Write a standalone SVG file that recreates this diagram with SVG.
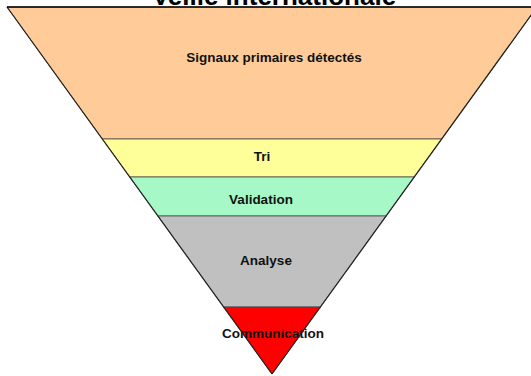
<svg xmlns="http://www.w3.org/2000/svg" width="531" height="376" viewBox="0 0 531 376">
<style>
.band{stroke:#4a4a4a;stroke-width:0.8}
.lbl{font-family:"Liberation Sans",Arial,sans-serif;font-weight:bold;font-size:13.5px;fill:#111;text-anchor:middle}
.title{font-family:"Liberation Sans",Arial,sans-serif;font-weight:bold;font-size:26px;fill:#000;text-anchor:middle}
</style>
<rect width="531" height="376" fill="#ffffff"/>
<text class="title" x="274" y="5">Veille internationale</text>
<g id="signaux">
<polygon class="band" fill="#FFCC99" points="7,7 537,7 441.7,139 102.3,139"/>
<text class="lbl" x="274" y="62">Signaux primaires détectés</text>
</g>
<g id="tri">
<polygon class="band" fill="#FFFF99" points="102.3,139 441.7,139 414.2,177 129.8,177"/>
<text class="lbl" x="262" y="161">Tri</text>
</g>
<g id="validation">
<polygon class="band" fill="#A6F9C6" points="129.8,177 414.2,177 386.1,216 157.9,216"/>
<text class="lbl" x="261" y="204">Validation</text>
</g>
<g id="analyse">
<polygon class="band" fill="#C0C0C0" points="157.9,216 386.1,216 320.4,307 223.6,307"/>
<text class="lbl" x="266" y="265">Analyse</text>
</g>
<g id="communication">
<polygon class="band" fill="#FF0000" points="223.6,307 320.4,307 272,374"/>
<text class="lbl" x="273" y="338">Communication</text>
</g>
<g id="outline">
<polyline points="272,374 7,7" fill="none" stroke="#222" stroke-width="1.2"/>
<polyline points="272,374 537,7" fill="none" stroke="#222" stroke-width="1.2"/>
<line x1="7" y1="7" x2="537" y2="7" stroke="#000" stroke-width="1.6"/>
</g>
</svg>
